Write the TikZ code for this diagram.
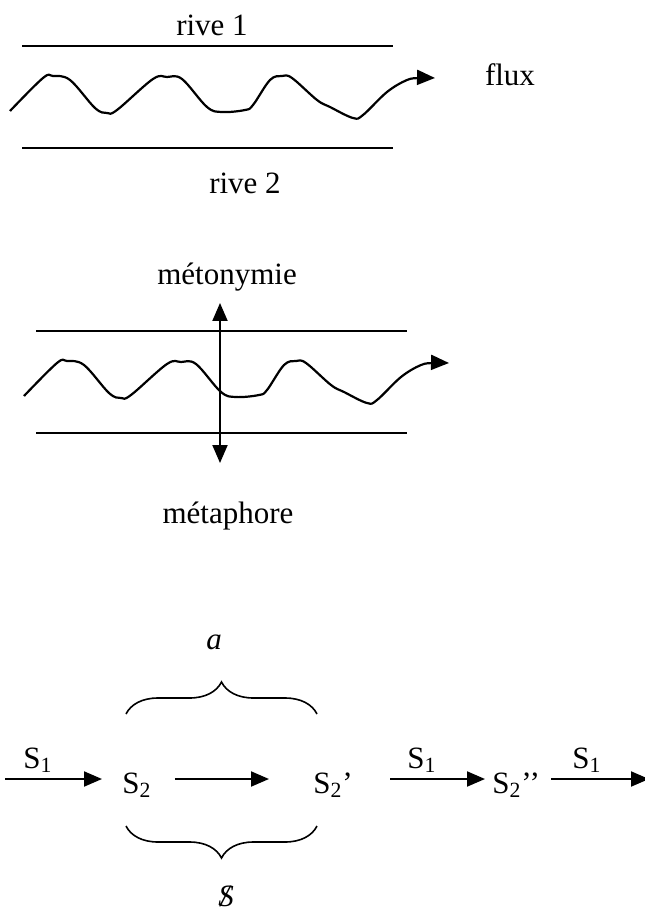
\documentclass[tikz,border=0pt]{standalone}
\usepackage{fontspec}
\setmainfont{Liberation Serif}
\usetikzlibrary{arrows.meta,decorations.pathreplacing}

\tikzset{
  riviere/.pic={
    % berges
    \draw[berge] (22,46) -- (393,46);
    \draw[berge] (22,148) -- (393,148);
    % courant
    \draw[courant] plot[smooth,tension=.6] coordinates {
      (10,111) (43,78) (53,76) (70,80) (95,108) (107,113) (117,110)
      (153,79) (167,77) (182,79) (207,107) (222,112) (245,110) (253,105)
      (270,80) (282,76) (292,78) (317,100) (330,107) (353,118) (363,115)
      (387,92) (407,80) (420,78) (435,78)};
  }
}

\begin{document}
\begin{tikzpicture}[x=0.5pt,y=-0.5pt,
    font=\fontsize{15.5pt}{18pt}\selectfont,
    pointe/.style={-{Triangle[length=9pt,width=7.5pt]}},
    fleche/.style={pointe,line width=1pt},
    berge/.style={line width=1.1pt},
    courant/.style={pointe,line width=1.1pt,line join=round},
    accolade/.style={line width=.8pt,decorate,decoration={brace,amplitude=16pt}},
    terme/.style={anchor=base west,inner sep=0pt,text height=17pt,text depth=3pt}]
  \useasboundingbox (0,0) rectangle (644,914);

  % fleuve
  \pic at (0,0) {riviere};
  \node[anchor=base] (rive1) at (212,36) {rive 1};
  \node[anchor=base] (rive2) at (245,194) {rive 2};
  \node[anchor=base] (flux) at (510,86) {flux};

  % axes
  \pic at (14,285) {riviere};
  \node[anchor=base] (meto) at (227,285) {métonymie};
  \node[anchor=base] (meta) at (228,523) {métaphore};
  \coordinate (haut) at (220,303);
  \coordinate (bas) at (220,463);
  \draw[{Triangle[length=9pt,width=7.5pt]}-{Triangle[length=9pt,width=7.5pt]},line width=1pt] (haut) -- (bas);

  % chaine
  \node[terme] (s2) at (122,793) {S\textsubscript{2}};
  \node[terme] (s2p) at (313,793) {S\textsubscript{2}’};
  \node[terme] (s2pp) at (492,793) {S\textsubscript{2}’’};
  \coordinate (debut) at (5,779);
  \coordinate (fin) at (649,779);
  \draw[fleche,shorten >=10pt] (debut) -- (s2);
  \draw[fleche,shorten <=11.5pt,shorten >=22pt] (s2) -- (s2p);
  \draw[fleche,shorten <=18.5pt,shorten >=3.5pt] (s2p) -- (s2pp);
  \draw[fleche,shorten <=5.5pt] (s2pp) -- (fin);
  \node[anchor=base] (sa) at (38,768) {S\textsubscript{1}};
  \node[anchor=base] (sb) at (422,768) {S\textsubscript{1}};
  \node[anchor=base] (sc) at (587,768) {S\textsubscript{1}};

  % accolades
  \draw[accolade] (126,714) -- (317,714);
  \draw[accolade] (317,826) -- (126,826);
  \node[anchor=base] (petita) at (214,649) {\textit{a}};
  \node[anchor=base] (sbarre) at (226,906) {\ooalign{\textit{S}\cr\hidewidth\textit{/}\hidewidth\cr}};
\end{tikzpicture}
\end{document}
